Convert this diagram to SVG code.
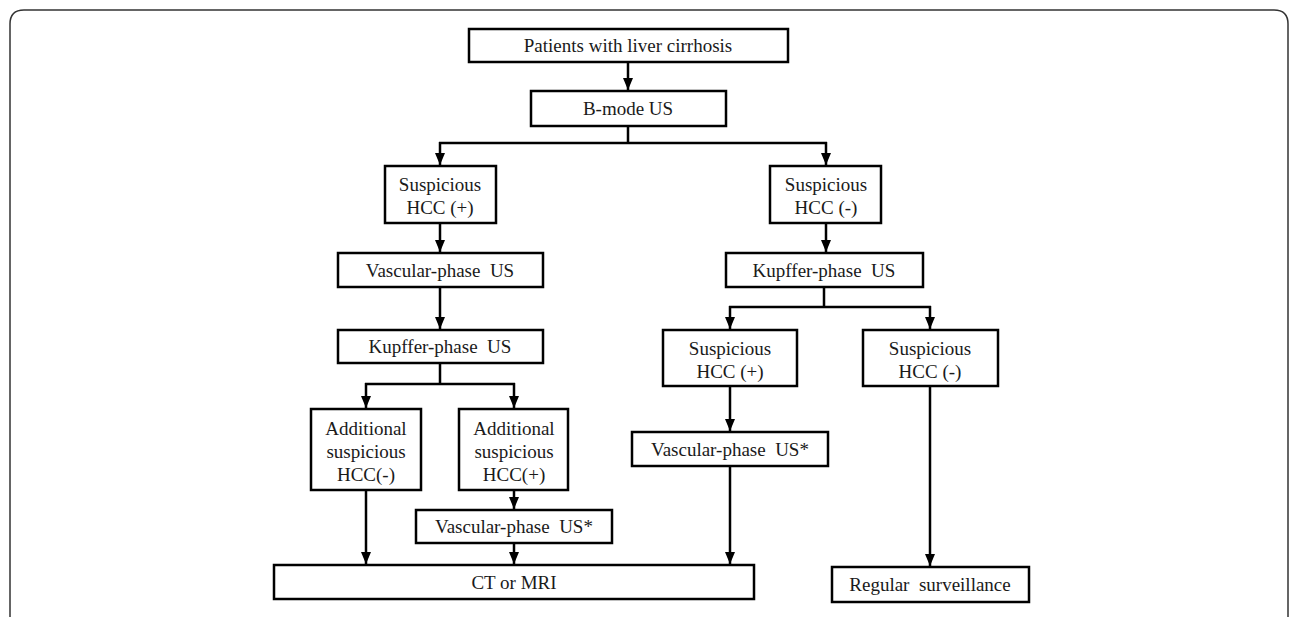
<svg xmlns="http://www.w3.org/2000/svg" width="1296" height="617" viewBox="0 0 1296 617">
<defs>
<style>
.box{fill:#fff;stroke:#000;stroke-width:2.5}
.t{font-family:"Liberation Serif","Times New Roman",serif;font-size:19px;fill:#1a1a1a;text-anchor:middle;white-space:pre}
.c{fill:none;stroke:#000;stroke-width:2.5}
.frame{fill:none;stroke:#333;stroke-width:1.5}
</style>
<marker id="ah" viewBox="0 0 12 10" refX="12" refY="5" markerWidth="12" markerHeight="10" markerUnits="userSpaceOnUse" orient="auto">
<path d="M0,0 L12,5 L0,10 z" fill="#000"/>
</marker>
</defs>
<rect width="1296" height="617" fill="#fff"/>
<path class="frame" d="M10,640 L10,24 Q10,10 24,10 L1274,10 Q1288,10 1288,24 L1288,640"/>
<g id="connectors">
<path class="c" d="M628,62 L628,90" marker-end="url(#ah)"/>
<path class="c" d="M628,126 L628,143 M439,143 L827,143"/>
<path class="c" d="M440,142 L440,165" marker-end="url(#ah)"/>
<path class="c" d="M826,142 L826,165" marker-end="url(#ah)"/>
<path class="c" d="M440,223 L440,252" marker-end="url(#ah)"/>
<path class="c" d="M440,287 L440,329" marker-end="url(#ah)"/>
<path class="c" d="M440,363 L440,384 M365,384 L515,384"/>
<path class="c" d="M366,383 L366,408" marker-end="url(#ah)"/>
<path class="c" d="M514,383 L514,408" marker-end="url(#ah)"/>
<path class="c" d="M514,490 L514,509" marker-end="url(#ah)"/>
<path class="c" d="M366,490 L366,564" marker-end="url(#ah)"/>
<path class="c" d="M514,543 L514,564" marker-end="url(#ah)"/>
<path class="c" d="M826,223 L826,252" marker-end="url(#ah)"/>
<path class="c" d="M824,287 L824,307 M729,307 L931,307"/>
<path class="c" d="M730,306 L730,329" marker-end="url(#ah)"/>
<path class="c" d="M930,306 L930,329" marker-end="url(#ah)"/>
<path class="c" d="M730,386 L730,431" marker-end="url(#ah)"/>
<path class="c" d="M730,466 L730,564" marker-end="url(#ah)"/>
<path class="c" d="M930,386 L930,566" marker-end="url(#ah)"/>
</g>
<g id="n1"><rect class="box" x="469" y="29" width="319" height="33"/><text class="t" x="628" y="52">Patients with liver cirrhosis</text></g>
<g id="n2"><rect class="box" x="531" y="91" width="195" height="35"/><text class="t" x="628" y="115">B-mode US</text></g>
<g id="n3"><rect class="box" x="385" y="166" width="111" height="57"/><text class="t" x="440" y="191">Suspicious</text><text class="t" x="440" y="214">HCC (+)</text></g>
<g id="n4"><rect class="box" x="338" y="253" width="205" height="34"/><text class="t" x="440" y="277" xml:space="preserve">Vascular-phase  US</text></g>
<g id="n5"><rect class="box" x="338" y="330" width="205" height="33"/><text class="t" x="440" y="353" xml:space="preserve">Kupffer-phase  US</text></g>
<g id="n6"><rect class="box" x="311" y="409" width="110" height="81"/><text class="t" x="366" y="435">Additional</text><text class="t" x="366" y="458">suspicious</text><text class="t" x="366" y="481">HCC(-)</text></g>
<g id="n7"><rect class="box" x="459" y="409" width="109" height="81"/><text class="t" x="514" y="435">Additional</text><text class="t" x="514" y="458">suspicious</text><text class="t" x="514" y="481">HCC(+)</text></g>
<g id="n8"><rect class="box" x="416" y="510" width="196" height="33"/><text class="t" x="514" y="533" xml:space="preserve">Vascular-phase  US*</text></g>
<g id="n9"><rect class="box" x="274" y="565" width="480" height="34"/><text class="t" x="514" y="589">CT or MRI</text></g>
<g id="n10"><rect class="box" x="770" y="166" width="111" height="57"/><text class="t" x="826" y="191">Suspicious</text><text class="t" x="826" y="214">HCC (-)</text></g>
<g id="n11"><rect class="box" x="726" y="253" width="197" height="34"/><text class="t" x="824" y="277" xml:space="preserve">Kupffer-phase  US</text></g>
<g id="n12"><rect class="box" x="663" y="330" width="134" height="56"/><text class="t" x="730" y="355">Suspicious</text><text class="t" x="730" y="378">HCC (+)</text></g>
<g id="n13"><rect class="box" x="863" y="330" width="135" height="56"/><text class="t" x="930" y="355">Suspicious</text><text class="t" x="930" y="378">HCC (-)</text></g>
<g id="n14"><rect class="box" x="632" y="432" width="196" height="34"/><text class="t" x="730" y="456" xml:space="preserve">Vascular-phase  US*</text></g>
<g id="n15"><rect class="box" x="832" y="567" width="197" height="35"/><text class="t" x="930" y="591" xml:space="preserve">Regular  surveillance</text></g>
</svg>
